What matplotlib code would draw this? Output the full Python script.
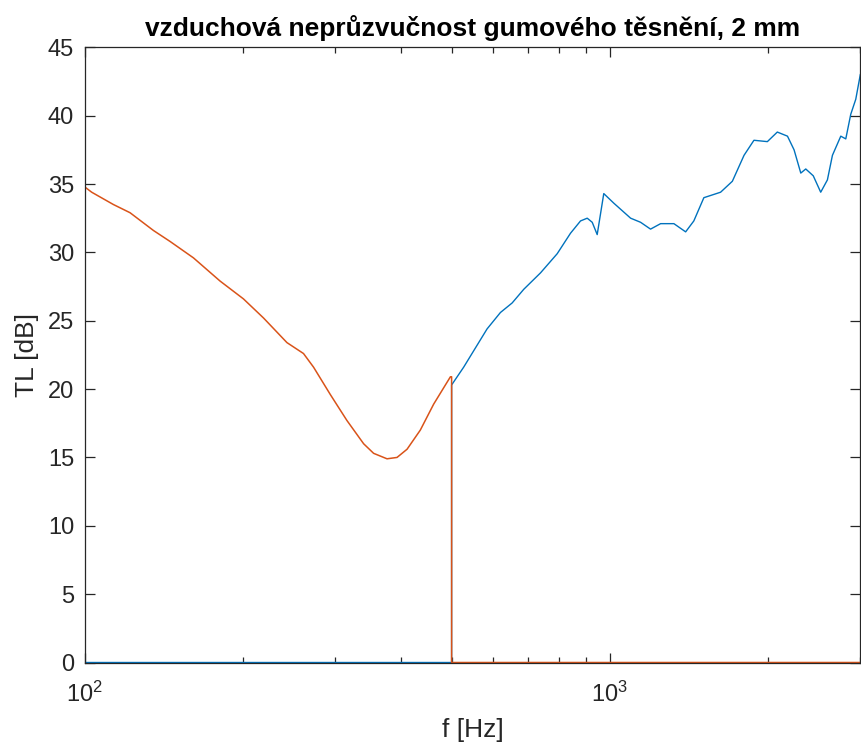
import matplotlib
matplotlib.use("Agg")
import matplotlib.pyplot as plt
from matplotlib.ticker import LogLocator, NullFormatter

plt.rcParams['font.family'] = ['Liberation Sans', 'DejaVu Sans']
plt.rcParams['mathtext.fontset'] = 'custom'
plt.rcParams['mathtext.rm'] = 'Liberation Sans'

# Orange series (measured below 500 Hz, zero above)
f_orange = [100, 103.2, 113.5, 122.1, 135.3, 145.5, 161.2, 181.2, 200.7, 219.2,
            242.9, 261.2, 273.0, 293.8, 316.0, 340.0, 355.2, 376.7, 393.6, 411.3,
            435.9, 462.2, 497.4, 500, 500, 3000]
tl_orange = [34.8, 34.4, 33.5, 32.9, 31.6, 30.8, 29.6, 27.9, 26.6, 25.2,
             23.4, 22.6, 21.6, 19.6, 17.7, 16.0, 15.3, 14.9, 15.0, 15.6,
             17.0, 18.9, 20.9, 20.9, 0, 0]

# Blue series (zero below 500 Hz, measured above)
f_blue = [100, 500, 500, 527.1, 550.8, 584.1, 619.3, 652.0, 686.1, 738.3,
          794.3, 842.1, 879.9, 906.1, 926.2, 946.6, 974.3, 1018, 1096, 1145,
          1196, 1250, 1325, 1395, 1446, 1511, 1626, 1712, 1802, 1882,
          1996, 2085, 2180, 2244, 2311, 2362, 2441, 2522, 2597, 2655,
          2754, 2815, 2877, 2941, 3000]
tl_blue = [0, 0, 20.3, 21.6, 22.8, 24.4, 25.6, 26.3, 27.3, 28.5,
           29.9, 31.4, 32.3, 32.5, 32.2, 31.3, 34.3, 33.6, 32.5, 32.2,
           31.7, 32.1, 32.1, 31.5, 32.3, 34.0, 34.4, 35.2, 37.1, 38.2,
           38.1, 38.8, 38.5, 37.5, 35.8, 36.1, 35.6, 34.4, 35.3, 37.1,
           38.5, 38.3, 40.1, 41.2, 43.0]

y_ticks = [0, 5, 10, 15, 20, 25, 30, 35, 40, 45]

title = "vzduchová neprůzvučnost gumového těsnění, 2 mm"
xlabel = "f [Hz]"
ylabel = "TL [dB]"

W, H = 861, 747
fig = plt.figure(figsize=(W/100, H/100), dpi=100)
ax = fig.add_axes([84.5/W, (H-662.5)/H, (860.3-84.5)/W, (662.5-47.3)/H])

ax.plot(f_blue, tl_blue, color='#0072BD', lw=1.0)
ax.plot(f_orange, tl_orange, color='#D95319', lw=1.1)

ax.set_xscale('log')
ax.set_xlim(100, 3000)
ax.set_ylim(0, 45)
ax.set_yticks(y_ticks)
ax.xaxis.set_minor_locator(LogLocator(base=10, subs=range(2, 10)))
ax.xaxis.set_minor_formatter(NullFormatter())

axc = '#262626'
for s in ax.spines.values():
    s.set_color(axc)
    s.set_linewidth(0.9)
ax.tick_params(which='both', direction='in', top=True, right=True, colors=axc,
               labelcolor=axc, labelsize=17, width=0.9)
ax.tick_params(which='major', length=7)
ax.tick_params(which='minor', length=4)
ax.tick_params(axis='x', pad=14)
ax.tick_params(axis='y', pad=7.4)

ax.set_title(title, fontsize=19, fontweight='bold', color='black', pad=8.1)
ax.set_xlabel(xlabel, fontsize=19, color=axc, labelpad=8)
ax.set_ylabel(ylabel, fontsize=19, color=axc, labelpad=6.8)

fig.savefig('out.png', dpi=100)
